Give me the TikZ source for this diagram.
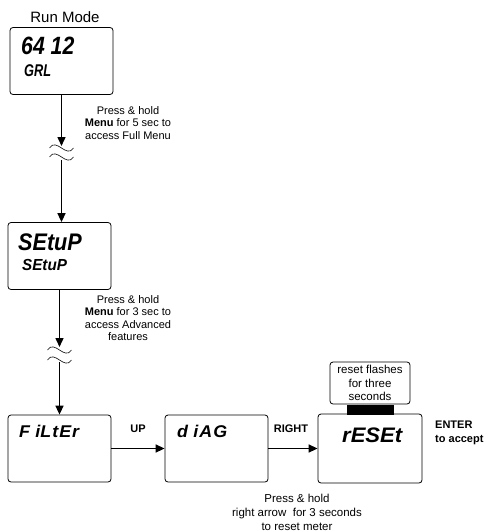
\documentclass[tikz,border=0pt]{standalone}
\usepackage{fontspec}
\setmainfont{Liberation Sans}
\usetikzlibrary{arrows.meta,positioning}

\newcommand{\lcd}[3][0.85]{\scalebox{#1}[1]{\fontsize{#2}{#2}\selectfont\bfseries\itshape #3}}

\tikzset{
  panel/.style={draw,line width=0.8pt,rounded corners=3pt,minimum width=103pt,minimum height=67pt,inner sep=0pt},
  seg/.style={anchor=base west,inner sep=0pt},
  note/.style={font=\fontsize{11}{12.2}\selectfont,align=center,inner sep=0pt},
  key/.style={font=\fontsize{11}{14}\selectfont\bfseries,inner sep=0pt},
  flow/.style={line width=1.5pt,-{Triangle[length=9pt,width=8pt]}},
}

\begin{document}
\begin{tikzpicture}[x=1pt,y=-1pt]
  \useasboundingbox (0,0) rectangle (496,532);

  % display panels
  \node[panel] (run) at (61.5,61) {};
  \node[panel] (setup) at (59.5,256) {};
  \node[panel] (filter) at (59.5,448.5) {};
  \node[panel] (diag) at (216.5,448.5) {};
  \node[panel,minimum width=104pt,minimum height=69pt] (reset) at (370,448.5) {};

  \node[font=\fontsize{15}{15}\selectfont] (title) at (65,17) {Run Mode};

  % segment texts
  \node[seg] (runtop) at (21,55) {\lcd{25}{64 12}};
  \node[seg] (runbot) at (24,77) {\lcd[0.75]{17}{GRL}};
  \node[seg] (suptop) at (18,250) {\lcd[0.9]{24}{SEtuP}};
  \node[seg] (supbot) at (22,270) {\lcd[0.95]{16}{SEtuP}};
  \node[seg] (filtxt) at (19,437) {\lcd[1.05]{17}{F\hspace{5pt}iL\hspace{1pt}t\hspace{1pt}E\hspace{1pt}r}};
  \node[seg] (diagtxt) at (177,437) {\lcd[1.05]{17}{d\hspace{5pt}i\hspace{1pt}A\hspace{1pt}G}};
  \node[seg] (restxt) at (342,442) {\lcd[1.05]{21}{rESEt}};

  % menu access with breaks
  \coordinate (cut1a) at (61.5,146);
  \coordinate (cut1b) at (61.5,160);
  \coordinate (cut2a) at (59.5,347);
  \coordinate (cut2b) at (59.5,362);
  \draw[flow] (run.south) -- (cut1a);
  \draw[flow] (cut1b) -- (cut1b |- setup.north);
  \draw[flow] (setup.south) -- (cut2a);
  \draw[flow] (cut2b) -- (filter.north);
  \foreach \c/\d in {cut1a/2,cut1b/-3,cut2a/3,cut2b/-2}
    \draw[line width=0.6pt] ([shift={(-12,\d)}]\c) .. controls +(7,-11) and +(-7,11) .. ([shift={(12,\d)}]\c);

  \node[note] (hold1) at (128,123) {Press \& hold\\\textbf{Menu} for 5 sec to\\access Full Menu};
  \node[note] (hold2) at (128,318) {Press \& hold\\\textbf{Menu} for 3 sec to\\access Advanced\\features};

  % bottom row
  \draw[flow] (filter.east) -- (diag.west) node[key,midway,above=15pt] (up) {UP};
  \draw[flow] (diag.east) -- (reset.west) node[key,midway,above=15pt,xshift=-2pt] (right) {RIGHT};

  \node[draw,line width=0.8pt,rounded corners=3pt,minimum width=80pt,minimum height=42pt,
        font=\fontsize{11.5}{13.5}\selectfont,align=center,inner sep=0pt] (flash) at (370,383)
        {reset flashes\\for three\\seconds};
  \node[fill=black,minimum width=47pt,minimum height=10pt,inner sep=0pt,below=0pt of flash] (bar) {};

  \node[key,anchor=north west,align=left] (enter) at (435,421) {ENTER\\to accept};
  \node[note,font=\fontsize{11.5}{14}\selectfont] (hold3) at (297,512)
    {Press \& hold\\right arrow\ \ for 3 seconds\\to reset meter};
\end{tikzpicture}
\end{document}
